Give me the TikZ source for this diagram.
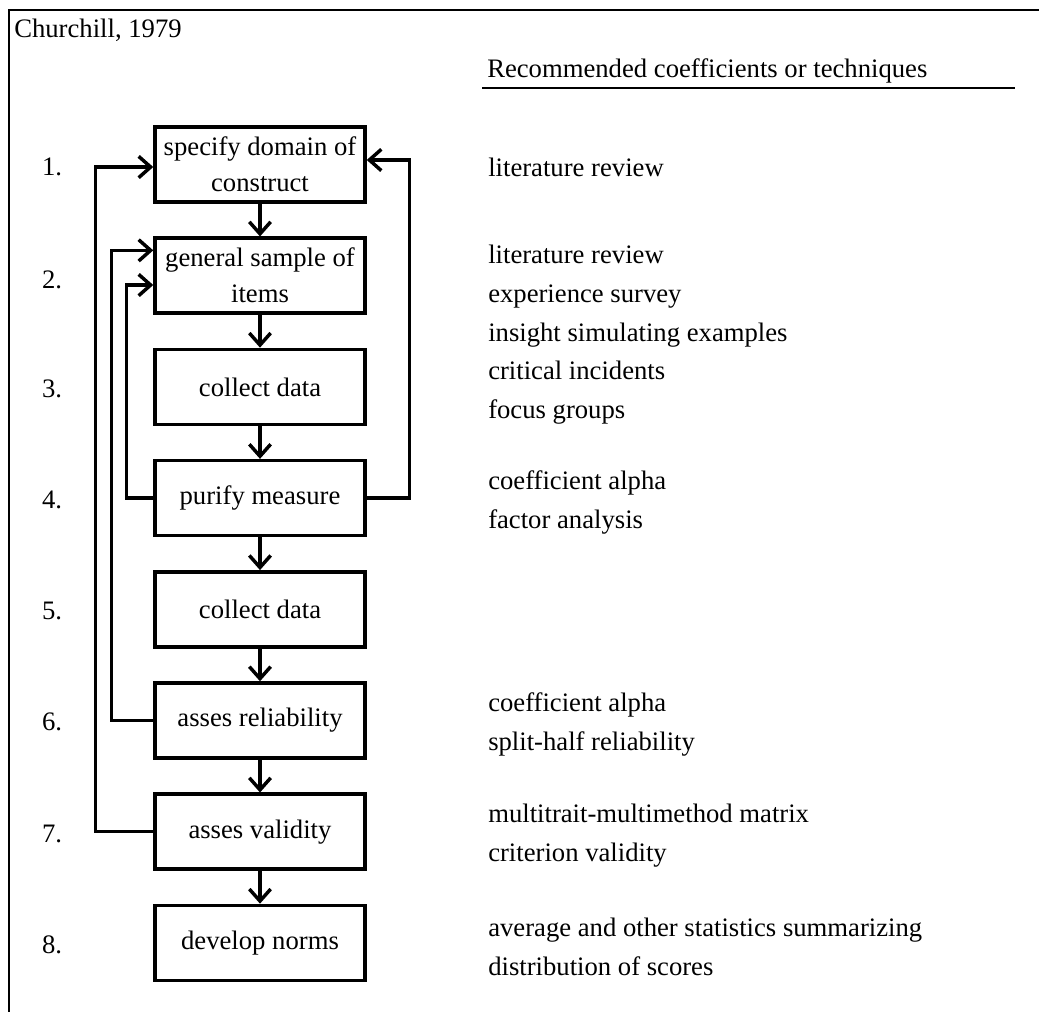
\documentclass[tikz,border=0pt]{standalone}
\usepackage{fontspec}
\setmainfont{Liberation Serif}
\usetikzlibrary{arrows.meta}
\begin{document}
\begin{tikzpicture}[x=0.75pt, y=-0.75pt,
  stepbox/.style={draw, line width=2.6pt, minimum width=157.5pt, minimum height=56.25pt,
    align=center, inner sep=1pt, font=\fontsize{20}{27}\selectfont},
  flow/.style={line width=2.6pt, -{Straight Barb[length=9pt, width=16pt]}},
  num/.style={font=\fontsize{20}{24}\selectfont},
  tech/.style={anchor=west, align=left, inner sep=0pt, font=\fontsize{20}{29.25}\selectfont}]
\useasboundingbox (0,0) rectangle (1039,1012);
\draw[line width=1.5pt] (9,1012) -- (9,10) -- (1039,10);
\node[num, anchor=west, inner sep=0pt] (Title) at (14,30) {Churchill, 1979};
\node[num, anchor=west, inner sep=0pt] (Head) at (487,71) {Recommended coefficients or techniques};
\draw[line width=1.8pt] (482,88) -- (1015,88);
% steps
\node[stepbox] (P_1) at (260,164.5) {specify domain of\\construct};
\node[stepbox] (P_2) at (260,275.7) {general sample of\\items};
\node[stepbox] (P_3) at (260,386.9) {collect data};
\node[stepbox] (P_4) at (260,498.1) {purify measure};
\node[stepbox] (P_5) at (260,609.3) {collect data};
\node[stepbox] (P_6) at (260,720.5) {asses reliability};
\node[stepbox] (P_7) at (260,831.7) {asses validity};
\node[stepbox] (P_8) at (260,942.9) {develop norms};
\draw[flow] (P_1) -- (P_2);
\draw[flow] (P_2) -- (P_3);
\draw[flow] (P_3) -- (P_4);
\draw[flow] (P_4) -- (P_5);
\draw[flow] (P_5) -- (P_6);
\draw[flow] (P_6) -- (P_7);
\draw[flow] (P_7) -- (P_8);
% loops back
\draw[flow] (P_4.east) -- ++(43,0) |- ([yshift=3.4pt]P_1.east);
\draw[flow] (P_7.west) -- ++(-58,0) |- ([yshift=-1.9pt]P_1.west);
\draw[flow] (P_6.west) -- ++(-42,0) |- ([yshift=19pt]P_2.west);
\draw[flow] (P_4.west) -- ++(-27,0) |- ([yshift=-7pt]P_2.west);
% numbers
\node[num] (N_1) at (52,167) {1.};
\node[num] (N_2) at (52,280) {2.};
\node[num] (N_3) at (52,389) {3.};
\node[num] (N_4) at (52,500) {4.};
\node[num] (N_5) at (52,611) {5.};
\node[num] (N_6) at (52,722) {6.};
\node[num] (N_7) at (52,834) {7.};
\node[num] (N_8) at (52,945) {8.};
% techniques
\node[tech] (T_1) at (488,167) {literature review};
\node[tech] (T_2) at (488,296) {literature review\\experience survey\\insight simulating examples};
\node[tech] (T_3) at (488,392.5) {critical incidents\\focus groups};
\node[tech] (T_4) at (488,502.5) {coefficient alpha\\factor analysis};
\node[tech] (T_6) at (488,724.5) {coefficient alpha\\split-half reliability};
\node[tech] (T_7) at (488,836) {multitrait-multimethod matrix\\criterion validity};
\node[tech] (T_8) at (488,947) {average and other statistics summarizing\\distribution of scores};
\end{tikzpicture}
\end{document}
